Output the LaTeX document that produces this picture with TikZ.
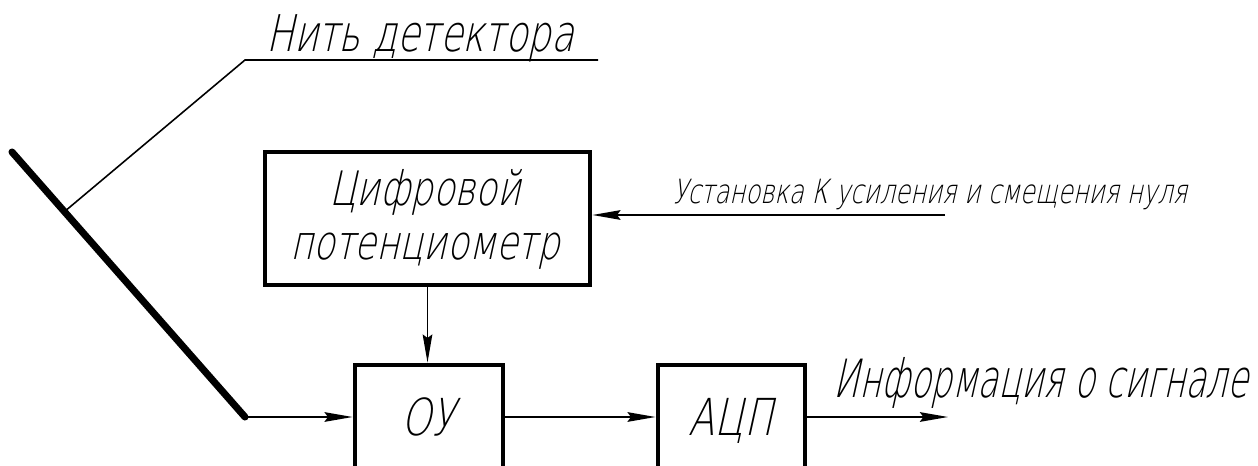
\documentclass[tikz,border=0pt]{standalone}
\usepackage{fontspec}
\newfontfamily\gostA{DejaVu Sans ExtraLight}[FakeSlant=0.22, FakeStretch=0.73]
\newfontfamily\gostB{DejaVu Sans ExtraLight}[FakeSlant=0.22, FakeStretch=0.64]
\newfontfamily\gostC{DejaVu Sans ExtraLight}[FakeSlant=0.22, FakeStretch=0.75]
\usetikzlibrary{arrows.meta,calc}
\tikzset{
  thin line/.style={line width=0.9pt},
  arr/.style={thin line, -{Stealth[length=16pt, width=5.5pt, inset=2pt]}},
  blk/.style={draw, line width=2.8pt, inner sep=0pt},
  lbl/.style={inner sep=0pt, anchor=base},
}
\begin{document}
\begin{tikzpicture}[x=0.02cm, y=-0.02cm]
  \useasboundingbox (0,0) rectangle (1258,466);
  \clip (0,0) rectangle (1258,466);

  % detector filament
  \coordinate (d1) at (12,152);
  \coordinate (d2) at (245,417);
  \draw[line width=4pt, line cap=round] (d1) -- (d2);

  % leader to the filament label
  \coordinate (lead) at ($(d1)!0.225!(d2)$);
  \coordinate (elbow) at (245,60);
  \coordinate (shelf) at (598,60);
  \node[lbl, font=\gostA\fontsize{28.8}{34}\selectfont] (nit) at (420,52) {Нить детектора};
  \draw[thin line] (lead) -- (elbow) -- (shelf);

  % blocks
  \node[blk, minimum width=6.5cm, minimum height=2.66cm] (cp) at (427.5,218.5) {};
  \node[lbl, font=\gostC\fontsize{27}{30}\selectfont] (cpt1) at (425,205) {Цифровой};
  \node[lbl, font=\gostC\fontsize{27}{30}\selectfont] (cpt2) at (425,259) {потенциометр};
  \node[blk, minimum width=2.96cm, minimum height=2.08cm] (ou) at (429,417) {};
  \node[lbl, font=\gostC\fontsize{29}{30}\selectfont] (out) at (428,435) {ОУ};
  \node[blk, minimum width=2.94cm, minimum height=2.08cm] (adc) at (731.5,417) {};
  \node[lbl, font=\gostC\fontsize{29}{30}\selectfont] (adct) at (731,435) {АЦП};

  % connections
  \coordinate (ust) at (945,215);
  \node[lbl, font=\gostA\fontsize{19}{22}\selectfont] (ustt) at (930,203) {Установка К усиления и смещения нуля};
  \draw[arr] (ust) -- (cp.east |- ust);
  \draw[arr] (cp.south) -- (cp.south |- ou.north);
  \draw[arr] (d2) -- (d2 -| ou.west);
  \draw[arr] (ou.east) -- (adc.west);
  \coordinate (info) at (948,417);
  \draw[arr] (adc.east) -- (info);
  \node[lbl, font=\gostB\fontsize{30}{36}\selectfont] (infot) at (1041,397) {Информация о сигнале};
\end{tikzpicture}
\end{document}
